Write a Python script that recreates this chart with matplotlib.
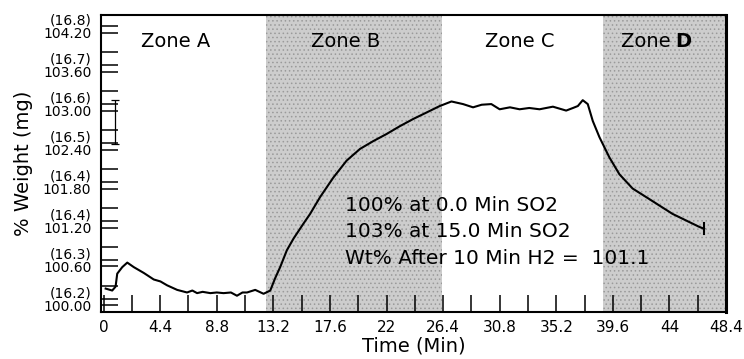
import numpy as np
import matplotlib.pyplot as plt
from matplotlib.ticker import MultipleLocator

plt.rcParams['font.family'] = ['DejaVu Sans']
plt.rcParams['hatch.color'] = '#9a9a9a'
plt.rcParams['hatch.linewidth'] = 0.6

# weight trace (time in min, % weight)
time_min = [0.16, 0.67, 0.93, 1.06, 1.45, 1.84, 2.35, 3.13, 3.90, 4.42, 4.94,
            5.72, 6.49, 6.9, 7.27, 7.7, 8.30, 8.8, 9.33, 9.9, 10.37, 10.8, 11.15,
            11.79, 12.44, 12.96, 13.34, 13.73, 14.25, 14.77, 15.54, 16.06,
            16.84, 17.87, 18.90, 19.94, 20.97, 22.01, 23.04, 24.07, 25.11,
            26.14, 27.05, 27.95, 28.73, 29.4, 30.15, 30.80, 31.6, 32.35, 33.1,
            33.9, 34.94, 35.97, 36.5, 36.88, 37.26, 37.65, 38.04, 38.56, 39.33,
            40.11, 41.14, 42.18, 43.21, 44.24, 45.28, 46.32, 46.70]
weight_pct = [100.16, 100.13, 100.19, 100.39, 100.49, 100.56, 100.49, 100.40,
              100.30, 100.27, 100.21, 100.14, 100.10, 100.13, 100.09, 100.11,
              100.09, 100.10, 100.09, 100.10, 100.05, 100.10, 100.10, 100.14,
              100.08, 100.13, 100.32, 100.49, 100.75, 100.93, 101.16, 101.31,
              101.57, 101.87, 102.13, 102.31, 102.43, 102.54, 102.66, 102.77,
              102.87, 102.97, 103.04, 103.00, 102.95, 102.99, 103.00, 102.92,
              102.95, 102.92, 102.94, 102.92, 102.96, 102.90, 102.94, 102.97,
              103.06, 103.00, 102.74, 102.49, 102.18, 101.92, 101.70, 101.57,
              101.44, 101.31, 101.21, 101.11, 101.08]

zones = ['Zone A', 'Zone B', 'Zone C', 'Zone ']
zone_edges = [-0.2, 12.6, 26.3, 38.8, 48.4]
zone_shaded = [False, True, False, True]

y_major = [100.0, 100.6, 101.2, 101.8, 102.4, 103.0, 103.6, 104.2]
y_labels = ['(16.2)\n100.00', '(16.3)\n100.60', '(16.4)\n101.20', '(16.4)\n101.80',
            '(16.5)\n102.40', '(16.6)\n103.00', '(16.7)\n103.60', '(16.8)\n104.20']
x_major = [0, 4.4, 8.8, 13.2, 17.6, 22, 26.4, 30.8, 35.2, 39.6, 44, 48.4]
x_labels = ['0', '4.4', '8.8', '13.2', '17.6', '22', '26.4', '30.8', '35.2',
            '39.6', '44', '48.4']

notes = ['100% at 0.0 Min SO2', '103% at 15.0 Min SO2',
         'Wt% After 10 Min H2 =  101.1']

fig = plt.figure(figsize=(7.44, 3.59), dpi=100)
ax = fig.add_axes([0.1358, 0.131, 0.840, 0.827])

# shaded zones
for i in range(len(zones)):
    if zone_shaded[i]:
        ax.axvspan(zone_edges[i], zone_edges[i + 1], facecolor='#cdcdcd',
                   edgecolor='#9a9a9a', hatch='....', linewidth=0, zorder=0)

# zone titles
zone_centres = [5.6, 18.8, 32.4, 42.4]
for i in range(len(zones)):
    ax.text(zone_centres[i], 103.97, zones[i], ha='center', va='center', fontsize=14)
ax.text(45.1, 103.97, 'D', ha='center', va='center', fontsize=14, fontweight='bold')

ax.plot(time_min, weight_pct, color='black', linewidth=1.5)
# end marker of trace
ax.plot([46.7, 46.7], [101.0, 101.17], color='black', linewidth=1.5)

# calibration bar
ax.errorbar([0.85], [102.73], yerr=[0.34], color='black', linewidth=0.9,
            capsize=3, capthick=0.9)

for i in range(len(notes)):
    ax.text(18.8, 101.44 - i * 0.405, notes[i], ha='left', va='center', fontsize=14.5)

ax.set_xlim(-0.2, 48.4)
ax.set_ylim(99.8, 104.37)
ax.set_xticks(x_major)
ax.set_xticklabels(x_labels)
ax.xaxis.set_minor_locator(MultipleLocator(2.2))
ax.set_yticks(y_major)
ax.set_yticklabels(y_labels, linespacing=0.95)
ax.yaxis.set_minor_locator(MultipleLocator(0.3))
ax.tick_params(axis='both', which='both', direction='in', length=12, width=1.1,
               labelsize=10)
ax.tick_params(axis='x', which='major', pad=6, labelsize=11)
ax.tick_params(axis='y', which='major', pad=7)

for s in ax.spines.values():
    s.set_linewidth(1.5)
ax.spines['right'].set_linewidth(2.2)

ax.set_xlabel('Time (Min)', fontsize=14, labelpad=1)
ax.set_ylabel('% Weight (mg)', fontsize=14, labelpad=7)

fig.savefig('out.png', dpi=100)
